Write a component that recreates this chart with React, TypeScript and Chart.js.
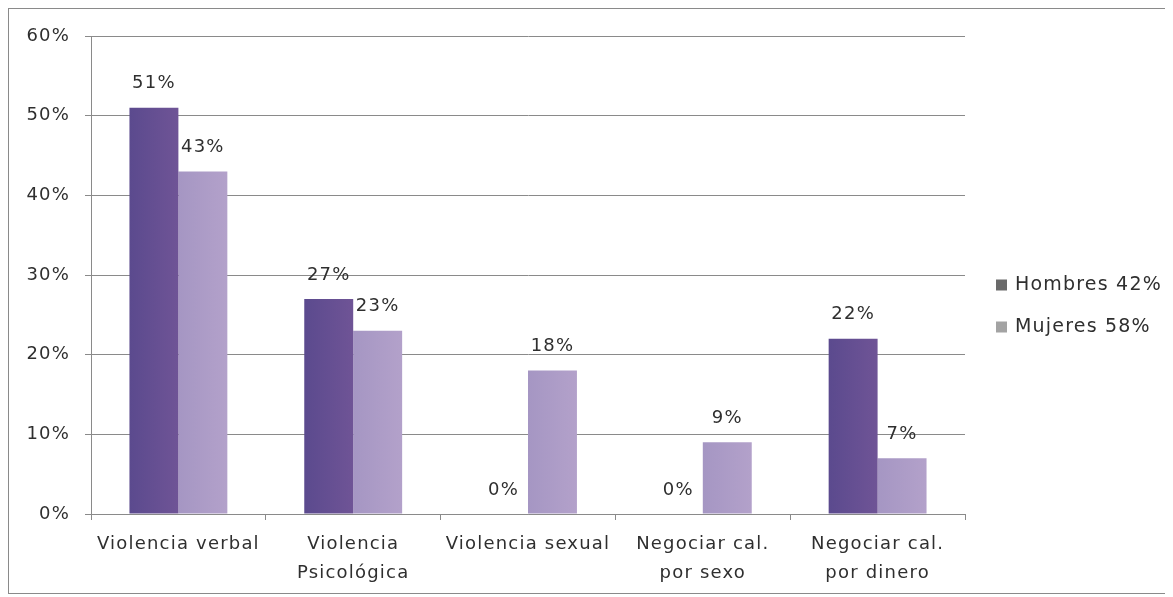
import React, { useEffect, useRef } from "react";
import { Chart, registerables } from "chart.js";

Chart.register(...registerables);

const categories: (string | string[])[] = [
  "Violencia verbal",
  ["Violencia", "Psicológica"],
  "Violencia sexual",
  ["Negociar cal.", "por sexo"],
  ["Negociar cal.", "por dinero"],
];
const hombres = [51, 27, 0, 0, 22];
const mujeres = [43, 23, 18, 9, 7];
const seriesNames = ["Hombres 42%", "Mujeres 58%"];
const yTicks = [0, 10, 20, 30, 40, 50, 60];

const FONT = "'DejaVu Sans', sans-serif";
const TEXT = "#2f2f2f";
const SPACING = "1.2px";
const BAR_GRADIENTS = [
  ["#5b4a8e", "#6f5496"],
  ["#a596c3", "#b3a1ca"],
];
const LEGEND_COLORS = ["#6a6a6a", "#a3a3a3"];
const CAT_PCT = 0.56;

const spacingPlugin = {
  id: "spacing",
  beforeLayout(chart: any) {
    chart.ctx.letterSpacing = SPACING;
  },
  beforeDraw(chart: any) {
    chart.ctx.letterSpacing = SPACING;
  },
};

const valueLabels = {
  id: "valueLabels",
  afterDatasetsDraw(chart: any) {
    const ctx = chart.ctx;
    ctx.save();
    ctx.letterSpacing = SPACING;
    ctx.font = `18px ${FONT}`;
    ctx.fillStyle = TEXT;
    ctx.textAlign = "center";
    ctx.textBaseline = "middle";
    chart.data.datasets.forEach((ds: any, i: number) => {
      const meta = chart.getDatasetMeta(i);
      meta.data.forEach((bar: any, j: number) => {
        ctx.fillText(`${ds.data[j]}%`, bar.x, bar.y - 24);
      });
    });
    ctx.restore();
  },
};

const sideLegend = {
  id: "sideLegend",
  afterDraw(chart: any) {
    const ctx = chart.ctx;
    const area = chart.chartArea;
    ctx.save();
    ctx.letterSpacing = SPACING;
    ctx.font = `19px ${FONT}`;
    ctx.textAlign = "left";
    ctx.textBaseline = "middle";
    const x0 = area.right + 31;
    const cy = chart.height / 2 + 5;
    const gap = 42;
    chart.data.datasets.forEach((ds: any, i: number) => {
      const y = cy + (i - (chart.data.datasets.length - 1) / 2) * gap;
      ctx.fillStyle = LEGEND_COLORS[i];
      ctx.fillRect(x0, y - 6, 11, 11);
      ctx.fillStyle = TEXT;
      ctx.fillText(ds.label, x0 + 19, y);
    });
    ctx.restore();
  },
};

function barFill(dsIndex: number) {
  return (c: any) => {
    const chart = c.chart;
    const xs = chart.scales?.x;
    if (!xs || !chart.chartArea || c.dataIndex === undefined) return BAR_GRADIENTS[dsIndex][0];
    const center = xs.getPixelForValue(c.dataIndex);
    const catW = xs.width / categories.length;
    const w = (catW * CAT_PCT) / 2;
    const left = center - w + dsIndex * w;
    const g = chart.ctx.createLinearGradient(left, 0, left + w, 0);
    g.addColorStop(0, BAR_GRADIENTS[dsIndex][0]);
    g.addColorStop(1, BAR_GRADIENTS[dsIndex][1]);
    return g;
  };
}

export default function App() {
  const ref = useRef<HTMLCanvasElement>(null);
  useEffect(() => {
    if (!ref.current) return;
    const chart = new Chart(ref.current, {
      type: "bar",
      data: {
        labels: categories,
        datasets: [
          {
            label: seriesNames[0],
            data: hombres,
            backgroundColor: barFill(0),
            borderWidth: 0,
            categoryPercentage: CAT_PCT,
            barPercentage: 1,
          },
          {
            label: seriesNames[1],
            data: mujeres,
            backgroundColor: barFill(1),
            borderWidth: 0,
            categoryPercentage: CAT_PCT,
            barPercentage: 1,
          },
        ],
      },
      options: {
        responsive: false,
        animation: false,
        layout: { padding: { top: 27, right: 207, left: 0, bottom: 0 } },
        plugins: {
          tooltip: { enabled: false },
          legend: { display: false },
        },
        scales: {
          x: {
            grid: {
              offset: true,
              drawOnChartArea: false,
              color: "#8a8a8a",
              tickLength: 6,
            },
            border: { color: "#8a8a8a" },
            ticks: {
              font: { family: FONT, size: 18, lineHeight: 1.62 },
              color: TEXT,
              maxRotation: 0,
              autoSkip: false,
              padding: 10,
            },
            afterFit: (s: any) => {
              s.height = 80;
            },
          },
          y: {
            min: 0,
            max: 60,
            afterBuildTicks: (s: any) => {
              s.ticks = yTicks.map((v) => ({ value: v }));
            },
            grid: { color: "#8a8a8a", tickLength: 6 },
            border: { color: "#8a8a8a" },
            ticks: {
              font: { family: FONT, size: 18 },
              color: TEXT,
              padding: 15,
              callback: (v: any) => `${v}%`,
            },
            afterFit: (s: any) => {
              s.width = 82;
            },
          },
        },
      },
      plugins: [spacingPlugin, valueLabels, sideLegend],
    });
    return () => chart.destroy();
  }, []);
  return (
    <div
      style={{
        position: "relative",
        width: 1164,
        height: 586,
        borderTop: "1px solid #8a8a8a",
        borderLeft: "1px solid #8a8a8a",
        borderBottom: "1px solid #8a8a8a",
        boxSizing: "border-box",
        background: "#fff",
      }}
    >
      <canvas ref={ref} width={1163} height={585} style={{ display: "block" }} />
    </div>
  );
}
